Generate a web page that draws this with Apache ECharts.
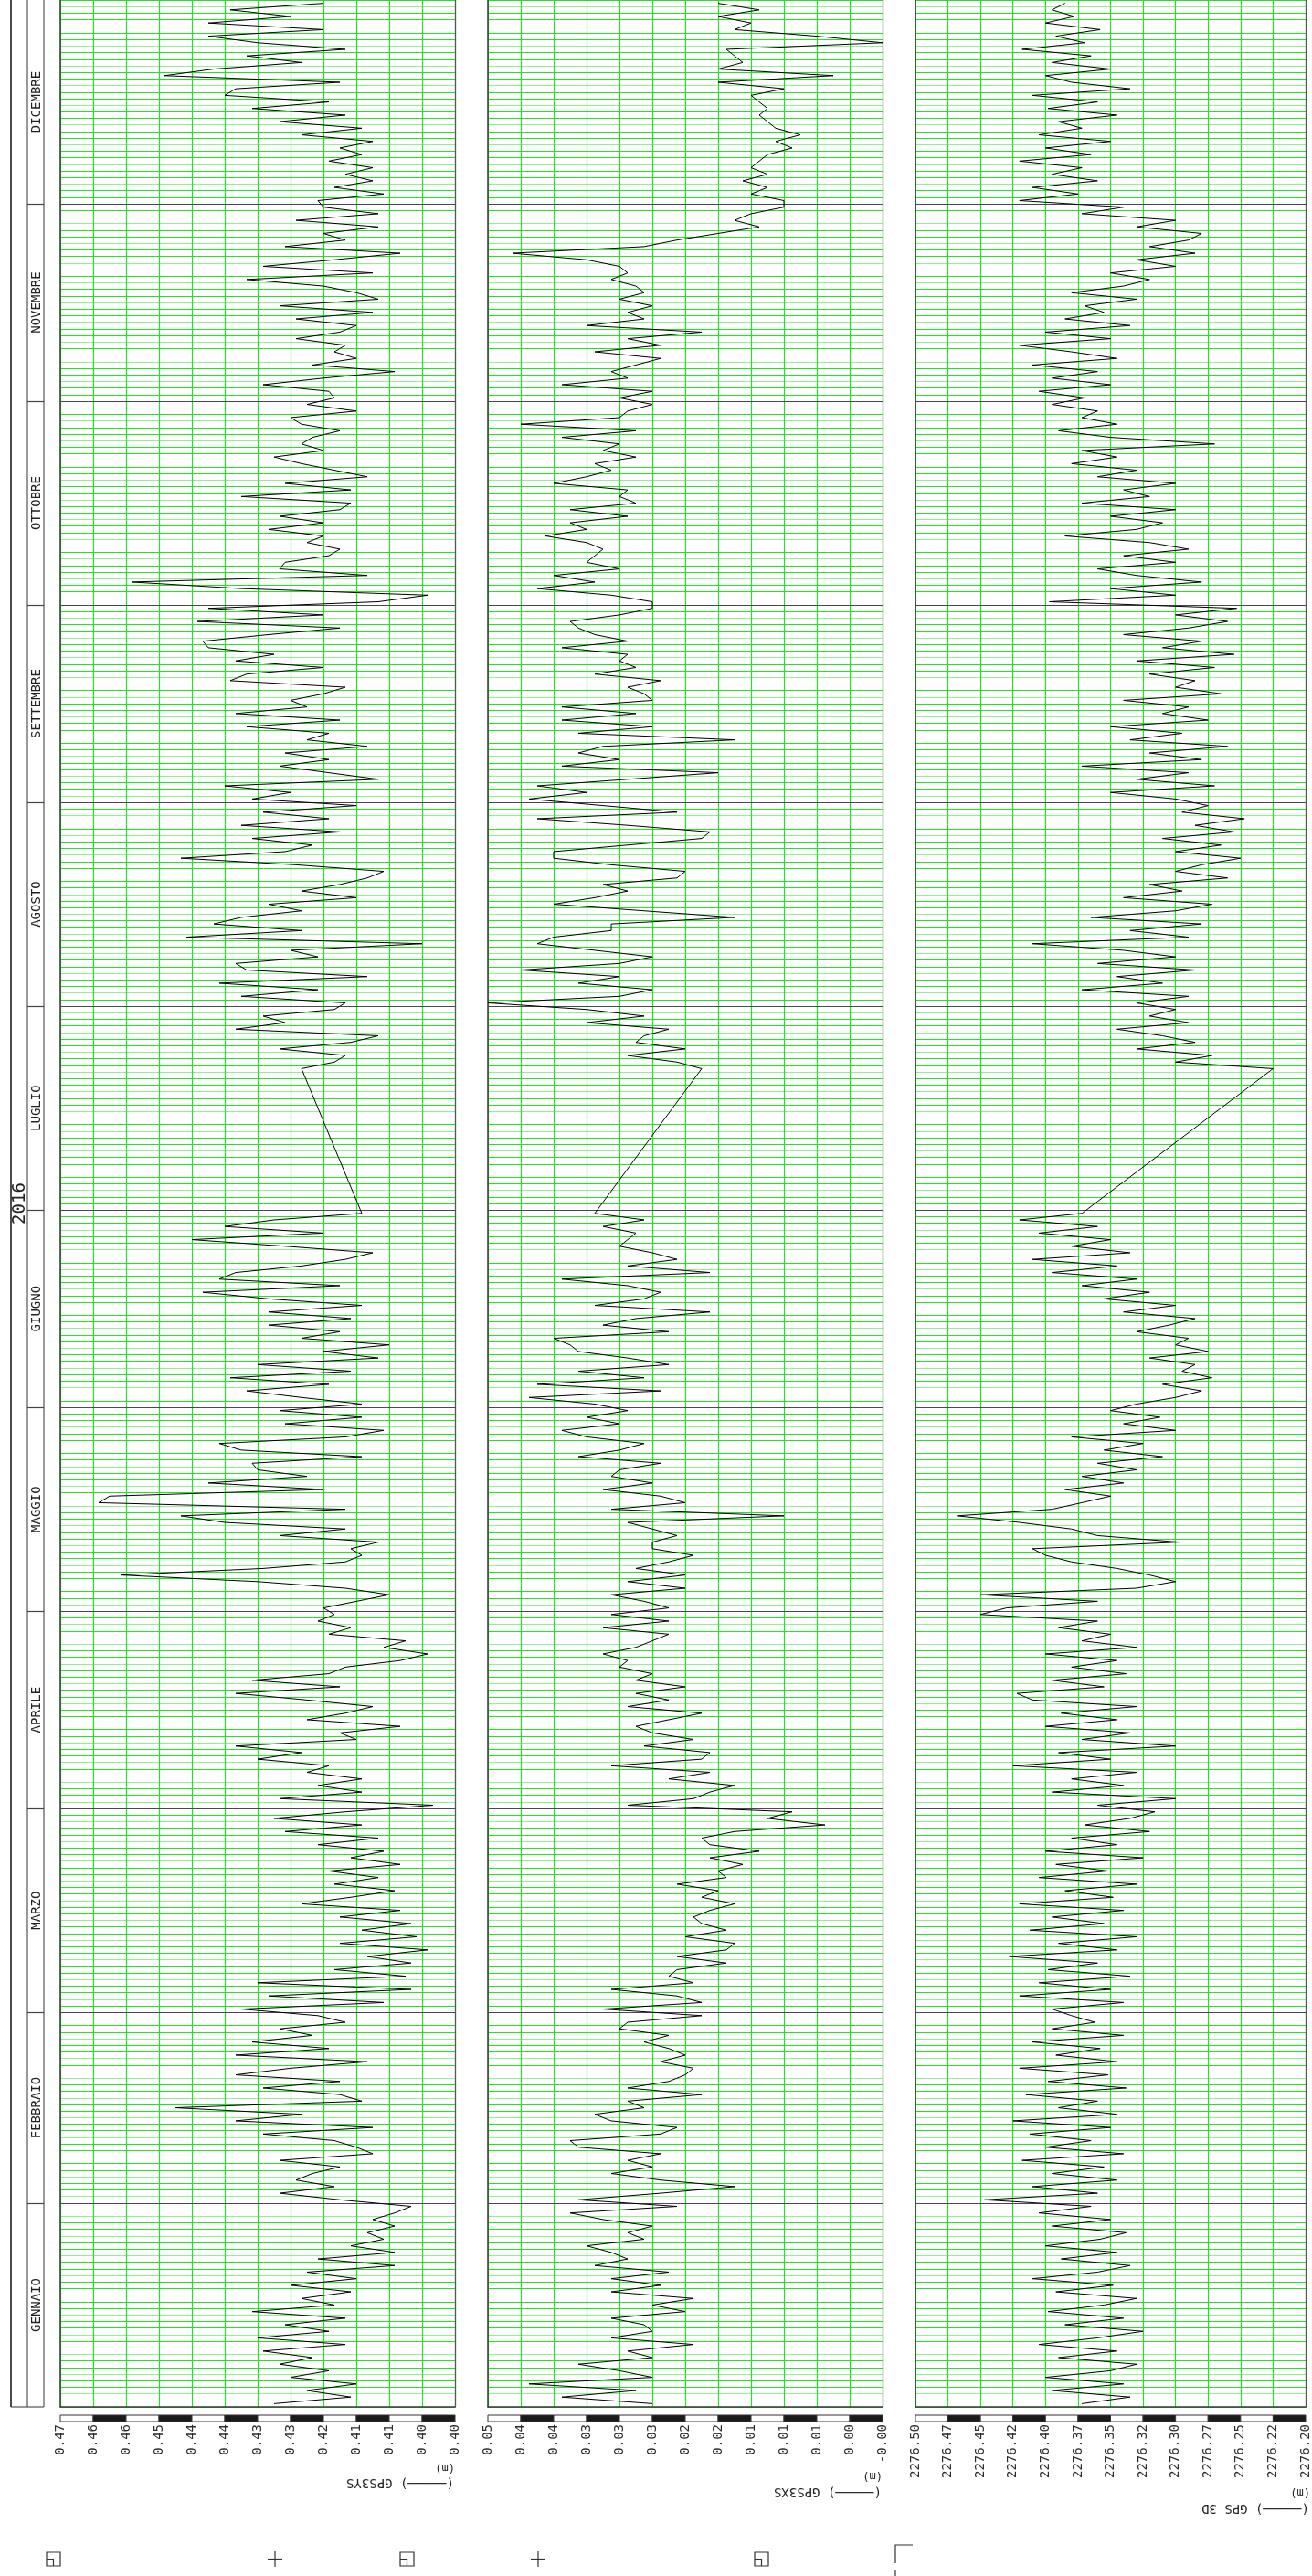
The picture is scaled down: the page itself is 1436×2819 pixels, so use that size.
<!DOCTYPE html>
<html>
<head>
<meta charset="utf-8">
<title>GPS 2016</title>
<script src="https://cdn.jsdelivr.net/npm/echarts@6/dist/echarts.min.js"></script>
<style>
  html, body { margin: 0; padding: 0; background: #ffffff; }
  #chart { width: 1436px; height: 2819px; }
</style>
</head>
<body>
<div id="chart"></div>
<script>
// ---- calendar -------------------------------------------------------------
const YEAR_LABEL = '2016';
const MONTHS = ['GENNAIO', 'FEBBRAIO', 'MARZO', 'APRILE', 'MAGGIO', 'GIUGNO',
                'LUGLIO', 'AGOSTO', 'SETTEMBRE', 'OTTOBRE', 'NOVEMBRE', 'DICEMBRE'];
// day-of-year at which each month begins (leap year), last entry = year end
const MONTH_START = [0, 31, 60, 91, 121, 152, 182, 213, 244, 274, 305, 335, 366];
// daily readings: first block runs Jan 1 - Jun 30, second block Jul 22 - Dec 31
const BLOCK_A_FIRST_DAY = 0;
const BLOCK_B_FIRST_DAY = 203;

// ---- GPS3YS (m) -----------------------------------------------------------
const gps3ysA = [
  // gennaio
  0.430,0.416,0.424,0.415,0.427,0.420,0.429,0.423,0.432,0.417,0.433,0.420,0.428,0.417,0.434,0.419,
  0.425,0.416,0.427,0.415,0.424,0.408,0.422,0.408,0.416,0.410,0.413,0.408,0.412,0.408,0.405,
  // febbraio
  0.418,0.429,0.419,0.426,0.423,0.418,0.429,0.412,0.415,0.419,0.432,0.412,0.437,0.425,0.448,
  0.414,0.418,0.432,0.418,0.437,0.427,0.413,0.437,0.420,0.434,0.423,0.429,0.417,0.422,
  // marzo
  0.436,0.410,0.431,0.405,0.433,0.406,0.419,0.405,0.413,0.402,0.418,0.404,0.414,0.405,0.418,0.407,
  0.425,0.416,0.408,0.419,0.411,0.420,0.407,0.416,0.410,0.422,0.411,0.428,0.414,0.430,0.417,
  // aprile
  0.401,0.429,0.414,0.422,0.414,0.424,0.420,0.433,0.425,0.437,0.415,0.418,0.407,0.424,0.417,
  0.412,0.424,0.437,0.418,0.434,0.420,0.417,0.407,0.402,0.410,0.406,0.420,0.416,0.422,0.419,
  // maggio
  0.421,0.415,0.409,0.417,0.433,0.458,0.432,0.417,0.414,0.416,0.411,0.429,0.417,0.439,0.447,0.417,
  0.462,0.460,0.421,0.442,0.424,0.433,0.434,0.414,0.436,0.440,0.417,0.410,0.428,0.414,0.429,
  // giugno
  0.414,0.425,0.435,0.420,0.438,0.416,0.433,0.411,0.421,0.409,0.425,0.418,0.431,0.416,0.431,
  0.414,0.431,0.443,0.418,0.440,0.437,0.425,0.417,0.412,0.428,0.445,0.421,0.439,0.430,0.414
];
const gps3ysB = [
  // luglio
  0.425,0.419,0.417,0.429,0.416,0.411,0.437,0.428,0.432,0.419,
  // agosto
  0.417,0.436,0.422,0.440,0.413,0.435,0.437,0.422,0.427,0.403,0.446,0.425,0.441,0.436,0.425,0.431,
  0.415,0.425,0.418,0.413,0.410,0.426,0.447,0.428,0.423,0.434,0.418,0.436,0.420,0.432,0.415,
  // settembre
  0.434,0.427,0.439,0.411,0.420,0.429,0.420,0.428,0.413,0.424,0.420,0.435,0.418,0.437,0.424,
  0.427,0.421,0.417,0.438,0.435,0.421,0.437,0.430,0.442,0.443,0.431,0.418,0.444,0.421,0.442,
  // ottobre
  0.411,0.402,0.436,0.456,0.413,0.429,0.428,0.420,0.418,0.424,0.421,0.431,0.421,0.429,0.418,0.416,
  0.436,0.416,0.428,0.413,0.419,0.425,0.430,0.421,0.425,0.423,0.418,0.425,0.427,0.415,0.424,
  // novembre
  0.419,0.420,0.432,0.421,0.408,0.423,0.415,0.419,0.417,0.426,0.418,0.415,0.426,0.412,0.429,
  0.411,0.415,0.421,0.435,0.412,0.432,0.419,0.407,0.428,0.417,0.421,0.411,0.426,0.411,0.421,
  // dicembre
  0.422,0.410,0.419,0.412,0.417,0.412,0.420,0.414,0.418,0.412,0.425,0.414,0.429,0.417,0.434,0.420,
  0.439,0.437,0.418,0.450,0.441,0.425,0.435,0.417,0.433,0.442,0.421,0.442,0.427,0.438,0.421
];

// ---- GPS3XS (m) -----------------------------------------------------------
const gps3xsA = [
  // gennaio
  0.026,0.037,0.028,0.041,0.026,0.030,0.035,0.026,0.029,0.021,0.031,0.026,0.027,0.031,0.022,0.026,
  0.021,0.031,0.025,0.031,0.024,0.033,0.029,0.031,0.034,0.027,0.029,0.026,0.032,0.036,0.023,
  // febbraio
  0.035,0.025,0.016,0.025,0.031,0.026,0.029,0.025,0.035,0.036,0.025,0.023,0.031,0.033,0.027,
  0.029,0.020,0.029,0.024,0.022,0.021,0.025,0.022,0.024,0.027,0.024,0.030,0.029,0.020,
  // marzo
  0.032,0.020,0.023,0.031,0.021,0.024,0.023,0.017,0.023,0.017,0.016,0.022,0.017,0.020,0.021,0.019,
  0.016,0.020,0.018,0.023,0.017,0.018,0.015,0.019,0.013,0.019,0.020,0.016,0.005,0.012,0.009,
  // aprile
  0.029,0.021,0.019,0.016,0.024,0.019,0.031,0.020,0.019,0.027,0.021,0.026,0.028,0.024,0.020,
  0.029,0.024,0.028,0.022,0.028,0.026,0.030,0.029,0.032,0.028,0.026,0.024,0.032,0.024,0.031,
  // maggio
  0.024,0.027,0.031,0.022,0.029,0.022,0.028,0.024,0.021,0.026,0.026,0.023,0.026,0.029,0.010,0.031,
  0.022,0.025,0.032,0.026,0.031,0.030,0.025,0.035,0.030,0.027,0.034,0.037,0.030,0.034,0.029,
  // giugno
  0.033,0.041,0.025,0.040,0.027,0.035,0.024,0.029,0.035,0.036,0.038,0.024,0.032,0.028,0.019,
  0.033,0.027,0.025,0.029,0.037,0.019,0.029,0.023,0.026,0.030,0.029,0.028,0.032,0.027,0.033
];
const gps3xsB = [
  // luglio
  0.020,0.023,0.029,0.022,0.028,0.027,0.024,0.034,0.027,0.034,
  // agosto
  0.046,0.030,0.026,0.035,0.030,0.042,0.030,0.026,0.033,0.040,0.038,0.031,0.031,0.016,0.027,0.038,
  0.033,0.029,0.032,0.023,0.022,0.031,0.038,0.038,0.029,0.020,0.019,0.029,0.040,0.023,0.032,
  // settembre
  0.041,0.034,0.040,0.029,0.018,0.037,0.030,0.035,0.032,0.016,0.035,0.026,0.037,0.028,0.037,
  0.026,0.027,0.029,0.025,0.033,0.028,0.030,0.029,0.037,0.029,0.033,0.035,0.036,0.030,0.026,
  // ottobre
  0.026,0.031,0.040,0.033,0.038,0.030,0.034,0.033,0.032,0.034,0.039,0.034,0.036,0.029,0.036,0.028,
  0.030,0.029,0.038,0.034,0.031,0.033,0.028,0.032,0.030,0.037,0.028,0.042,0.030,0.029,0.026,
  // novembre
  0.030,0.026,0.037,0.029,0.031,0.028,0.025,0.033,0.025,0.029,0.020,0.034,0.027,0.029,0.026,
  0.030,0.027,0.028,0.031,0.029,0.030,0.034,0.043,0.027,0.023,0.018,0.013,0.016,0.014,0.010,
  // dicembre
  0.010,0.014,0.012,0.015,0.012,0.014,0.013,0.012,0.009,0.011,0.008,0.011,0.012,0.013,0.012,0.013,
  0.014,0.010,0.018,0.004,0.018,0.015,0.016,0.017,-0.002,0.006,0.016,0.014,0.018,0.013,0.018
];

// ---- GPS 3D (m) -----------------------------------------------------------
const gps3dA = [
  // gennaio
  2276.372,2276.335,2276.395,2276.340,2276.400,2276.350,2276.330,2276.390,2276.345,2276.405,
  2276.360,2276.325,2276.385,2276.340,2276.398,2276.355,2276.330,2276.392,2276.348,2276.410,
  2276.360,2276.335,2276.388,2276.345,2276.400,2276.358,2276.338,2276.395,2276.350,2276.405,2276.365,
  // febbraio
  2276.447,2276.360,2276.410,2276.345,2276.395,2276.355,2276.418,2276.340,2276.400,2276.365,
  2276.412,2276.350,2276.425,2276.345,2276.390,2276.360,2276.415,2276.338,2276.398,2276.352,
  2276.420,2276.345,2276.392,2276.358,2276.410,2276.340,2276.395,2276.362,2276.380,
  // marzo
  2276.395,2276.340,2276.420,2276.350,2276.405,2276.335,2276.398,2276.360,2276.428,2276.345,
  2276.390,2276.330,2276.412,2276.355,2276.395,2276.340,2276.420,2276.348,2276.385,2276.330,
  2276.405,2276.352,2276.392,2276.325,2276.400,2276.345,2276.380,2276.320,2276.370,2276.335,2276.316,
  // aprile
  2276.360,2276.300,2276.395,2276.340,2276.380,2276.330,2276.425,2276.350,2276.390,2276.300,
  2276.372,2276.335,2276.400,2276.345,2276.388,2276.330,2276.410,2276.422,2276.355,2276.395,
  2276.338,2276.380,2276.345,2276.400,2276.330,2276.372,2276.350,2276.390,2276.360,2276.450,
  // maggio
  2276.430,2276.360,2276.450,2276.330,2276.300,2276.320,2276.345,2276.380,2276.400,2276.410,
  2276.297,2276.360,2276.380,2276.420,2276.468,2276.395,2276.372,2276.350,2276.385,2276.340,
  2276.372,2276.330,2276.360,2276.310,2276.355,2276.325,2276.380,2276.300,2276.340,2276.312,2276.350,
  // giugno
  2276.330,2276.300,2276.280,2276.310,2276.272,2276.295,2276.285,2276.320,2276.275,2276.300,
  2276.290,2276.330,2276.305,2276.285,2276.340,2276.300,2276.355,2276.320,2276.372,2276.330,
  2276.395,2276.345,2276.410,2276.335,2276.380,2276.350,2276.405,2276.360,2276.420,2276.372
];
const gps3dB = [
  // luglio
  2276.225,2276.300,2276.272,2276.330,2276.285,2276.310,2276.345,2276.290,2276.320,2276.300,
  // agosto
  2276.330,2276.290,2276.372,2276.310,2276.345,2276.285,2276.360,2276.300,2276.340,2276.410,
  2276.290,2276.335,2276.280,2276.365,2276.300,2276.272,2276.340,2276.295,2276.320,2276.260,
  2276.300,2276.280,2276.250,2276.300,2276.265,2276.310,2276.255,2276.285,2276.247,2276.295,2276.275,
  // settembre
  2276.300,2276.350,2276.270,2276.330,2276.290,2276.372,2276.280,2276.320,2276.260,2276.335,
  2276.295,2276.350,2276.275,2276.310,2276.290,2276.340,2276.265,2276.300,2276.285,2276.320,
  2276.270,2276.330,2276.255,2276.310,2276.280,2276.340,2276.290,2276.260,2276.300,2276.253,
  // ottobre
  2276.397,2276.300,2276.350,2276.280,2276.330,2276.360,2276.300,2276.340,2276.290,2276.320,
  2276.385,2276.330,2276.310,2276.350,2276.300,2276.372,2276.320,2276.340,2276.300,2276.360,
  2276.330,2276.380,2276.345,2276.372,2276.270,2276.350,2276.390,2276.345,2276.372,2276.360,2276.395,
  // novembre
  2276.370,2276.405,2276.350,2276.395,2276.360,2276.410,2276.345,2276.380,2276.420,2276.350,
  2276.400,2276.335,2276.385,2276.355,2276.370,2276.330,2276.380,2276.340,2276.320,2276.350,
  2276.300,2276.330,2276.285,2276.320,2276.290,2276.280,2276.330,2276.300,2276.372,2276.340,
  // dicembre
  2276.420,2276.375,2276.410,2276.360,2276.395,2276.372,2276.420,2276.365,2276.400,2276.350,
  2276.405,2276.372,2276.390,2276.345,2276.398,2276.360,2276.410,2276.335,2276.380,2276.400,
  2276.350,2276.395,2276.365,2276.418,2276.370,2276.392,2276.358,2276.400,2276.378,2276.395,2276.385
];

// ---- value scales (printed left to right) ---------------------------------
const ticksYS = ['0.47','0.46','0.46','0.45','0.44','0.44','0.43','0.43','0.42','0.41','0.41','0.40','0.40'];
const ticksXS = ['0.05','0.04','0.04','0.03','0.03','0.03','0.02','0.02','0.01','0.01','0.01','0.00','-0.00'];
const ticks3D = ['2276.50','2276.47','2276.45','2276.42','2276.40','2276.37','2276.35','2276.32',
                 '2276.30','2276.27','2276.25','2276.22','2276.20'];

// ---- layout ---------------------------------------------------------------
const FONT = '"DejaVu Sans Mono", "Liberation Mono", monospace';
const PLOT_TOP = 0;
const PLOT_BOTTOM = 2634;
const panels = [
  { name: 'GPS3YS', left: 66,   width: 432, min: 0.397,   max: 0.469,  step: 0.006, ticks: ticksYS,
    a: gps3ysA, b: gps3ysB, legendY: 2717, unitY: 2700 },
  { name: 'GPS3XS', left: 534,  width: 432, min: -0.002,  max: 0.046,  step: 0.004, ticks: ticksXS,
    a: gps3xsA, b: gps3xsB, legendY: 2727, unitY: 2709 },
  { name: 'GPS 3D', left: 1002, width: 432, min: 2276.20, max: 2276.50, step: 0.025, ticks: ticks3D,
    a: gps3dA, b: gps3dB, legendY: 2745, unitY: 2727 }
];

function toPoints(blockA, blockB) {
  const pts = [];
  blockA.forEach((v, i) => pts.push([v, BLOCK_A_FIRST_DAY + i + 0.5]));
  blockB.forEach((v, i) => pts.push([v, BLOCK_B_FIRST_DAY + i + 0.5]));
  return pts;
}

const GRID_GREEN = '#27e027';
const DAY_GREEN = ['#1fe61f', '#1fe61f', '#8ef28e'];
const FRAME = '#3a3a3a';
const MONTH_LINE = '#4a4655';

const grids = [], xAxes = [], yAxes = [], series = [];
panels.forEach((p, i) => {
  grids.push({ left: p.left, width: p.width, top: PLOT_TOP, height: PLOT_BOTTOM - PLOT_TOP, containLabel: false });
  xAxes.push({
    type: 'value', gridIndex: i, inverse: true, position: 'bottom',
    min: p.min, max: p.max, interval: p.step,
    axisLine: { show: true, onZero: false, lineStyle: { color: FRAME, width: 1.5 } },
    axisTick: { show: false },
    splitLine: { show: true, lineStyle: { color: GRID_GREEN, width: 1.2 } },
    axisLabel: {
      show: true, rotate: 90, margin: 19, fontFamily: FONT, fontSize: 14, color: '#2a2a2a',
      formatter: (val) => {
        const k = Math.round((val - p.min) / p.step);
        return p.ticks[p.ticks.length - 1 - k] || '';
      }
    }
  });
  // day axis with a rule for every day
  yAxes.push({
    type: 'value', gridIndex: i, min: 0, max: 366, interval: 1, position: 'left',
    axisLine: { show: true, onZero: false, lineStyle: { color: FRAME, width: 1.5 } },
    axisTick: { show: false }, axisLabel: { show: false },
    splitLine: { show: true, lineStyle: { color: DAY_GREEN, width: 1 } }
  });
  // right-hand frame edge
  yAxes.push({
    type: 'value', gridIndex: i, min: 0, max: 366, position: 'right',
    axisLine: { show: true, onZero: false, lineStyle: { color: '#555555', width: 1.2 } },
    axisTick: { show: false }, axisLabel: { show: false }, splitLine: { show: false }
  });
  series.push({
    name: p.name, type: 'line', xAxisIndex: i, yAxisIndex: i * 2,
    data: toPoints(p.a, p.b), showSymbol: false, symbol: 'none',
    lineStyle: { color: '#000000', width: 1 }, z: 5, animation: false,
    markLine: {
      silent: true, symbol: ['none', 'none'], animation: false,
      label: { show: false },
      lineStyle: { color: MONTH_LINE, width: 1.2, type: 'solid' },
      data: MONTH_START.slice(1, 12).map(d => ({ yAxis: d }))
    }
  });
});

const chart = echarts.init(document.getElementById('chart'), null, { renderer: 'canvas' });
chart.setOption({
  backgroundColor: '#ffffff',
  animation: false,
  grid: grids, xAxis: xAxes, yAxis: yAxes, series: series
});

// ---- decorations placed from the axis scales ------------------------------
const gfx = [];
const yOf = (day) => chart.convertToPixel({ yAxisIndex: 0 }, day);
const yTop = yOf(366), yBot = yOf(0);

// calendar strip: year column and month column
const COL_A = 12, COL_B = 30, COL_C = 48;
[[COL_A, '#111111', 1.5], [COL_B, '#555555', 1.2], [COL_C, '#555555', 1.2]].forEach(([x, c, w]) => {
  gfx.push({ type: 'line', shape: { x1: x, y1: yTop - 5, x2: x, y2: yBot }, style: { stroke: c, lineWidth: w }, silent: true });
});
gfx.push({ type: 'line', shape: { x1: COL_A, y1: yBot, x2: COL_C, y2: yBot }, style: { stroke: '#333333', lineWidth: 1.2 }, silent: true });
MONTH_START.slice(1, 12).forEach(d => {
  const y = Math.round(yOf(d)) + 0.5;
  gfx.push({ type: 'line', shape: { x1: COL_B, y1: y, x2: COL_C, y2: y }, style: { stroke: '#444444', lineWidth: 1.2 }, silent: true });
});
MONTHS.forEach((m, k) => {
  const yc = yOf((MONTH_START[k] + MONTH_START[k + 1]) / 2);
  gfx.push({
    type: 'text', x: (COL_B + COL_C) / 2 + 1, y: yc, rotation: Math.PI / 2, silent: true,
    style: { text: m, font: '14px ' + FONT, fill: '#222222', textAlign: 'center', textVerticalAlign: 'middle' }
  });
});
gfx.push({
  type: 'text', x: (COL_A + COL_B) / 2 + 1, y: yOf(183), rotation: Math.PI / 2, silent: true,
  style: { text: YEAR_LABEL, font: '19px ' + FONT, fill: '#222222', textAlign: 'center', textVerticalAlign: 'middle' }
});

// checkered scale bars, legends and units under each panel
panels.forEach((p, i) => {
  const xs = [];
  for (let k = 0; k <= 12; k++) {
    xs.push(chart.convertToPixel({ xAxisIndex: i }, p.max - k * p.step));
  }
  const barTop = 2643, barH = 7;
  for (let k = 0; k < 12; k++) {
    gfx.push({
      type: 'rect', silent: true,
      shape: { x: xs[k], y: barTop, width: xs[k + 1] - xs[k], height: barH },
      style: { fill: k % 2 === 0 ? '#ffffff' : '#1a1a1a', stroke: '#333333', lineWidth: 1 }
    });
  }
  const right = p.left + p.width;
  gfx.push({
    type: 'text', x: right, y: p.unitY, rotation: Math.PI, silent: true,
    style: { text: '(m)', font: '12px ' + FONT, fill: '#222222', textAlign: 'left', textVerticalAlign: 'middle' }
  });
  gfx.push({
    type: 'text', x: right - 1, y: p.legendY, rotation: Math.PI, silent: true,
    style: { text: '(\u2500\u2500\u2500\u2500\u2500) ' + p.name, font: '14px ' + FONT, fill: '#222222', textAlign: 'left', textVerticalAlign: 'middle' }
  });
});

// plotter registration marks along the bottom edge
const markY = 2793, markS = 15;
[51, 438, 826].forEach(x => {
  gfx.push({ type: 'rect', silent: true, shape: { x: x, y: markY, width: markS, height: markS }, style: { fill: 'none', stroke: '#333333', lineWidth: 1.2 } });
  gfx.push({ type: 'polyline', silent: true, shape: { points: [[x, markY + markS / 2], [x + markS / 2, markY + markS / 2], [x + markS / 2, markY + markS]] }, style: { fill: 'none', stroke: '#333333', lineWidth: 1.2 } });
});
[301, 589].forEach(x => {
  gfx.push({ type: 'line', silent: true, shape: { x1: x - 8, y1: markY + 7.5, x2: x + 8, y2: markY + 7.5 }, style: { stroke: '#333333', lineWidth: 1.2 } });
  gfx.push({ type: 'line', silent: true, shape: { x1: x, y1: markY - 1, x2: x, y2: markY + 16 }, style: { stroke: '#333333', lineWidth: 1.2 } });
});
gfx.push({ type: 'polyline', silent: true, shape: { points: [[999, 2785], [980, 2785], [980, 2805]] }, style: { fill: 'none', stroke: '#333333', lineWidth: 1.2 } });
gfx.push({ type: 'line', silent: true, shape: { x1: 980, y1: 2812, x2: 980, y2: 2819 }, style: { stroke: '#333333', lineWidth: 1.2 } });

chart.setOption({ graphic: gfx });
</script>
</body>
</html>
